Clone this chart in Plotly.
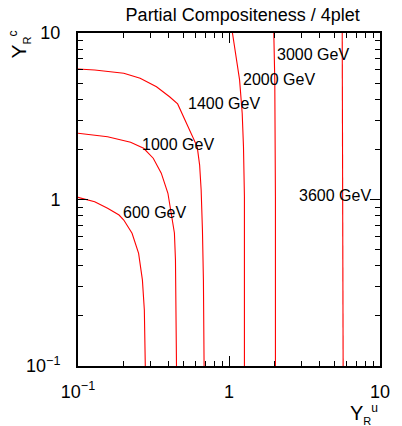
import math
import plotly.graph_objects as go

# ---- data ----
masses = ["600 GeV", "1000 GeV", "1400 GeV", "2000 GeV", "3000 GeV", "3600 GeV"]

c600_x = [0.1, 0.129, 0.157, 0.187, 0.201, 0.228, 0.252, 0.267, 0.275, 0.279]
c600_y = [1.03, 0.970, 0.885, 0.807, 0.753, 0.627, 0.475, 0.329, 0.217, 0.1]

c1000_x = [0.1, 0.157, 0.223, 0.272, 0.315, 0.356, 0.394, 0.420, 0.435, 0.442, 0.446, 0.449]
c1000_y = [2.50, 2.38, 2.21, 2.03, 1.77, 1.44, 1.09, 0.788, 0.629, 0.434, 0.249, 0.1]

c1400_x = [0.1, 0.129, 0.201, 0.258, 0.331, 0.404, 0.457, 0.523, 0.572, 0.616, 0.639, 0.654, 0.667, 0.677, 0.684]
c1400_y = [6.08, 6.00, 5.73, 5.35, 4.75, 4.14, 3.75, 2.88, 2.38, 2.07, 1.61, 1.14, 0.656, 0.328, 0.1]

c2000_x = [1.054, 1.118, 1.175, 1.223, 1.247, 1.265, 1.265]
c2000_y = [10.0, 7.21, 5.23, 3.30, 2.07, 1.04, 0.1]

c3000_x = [1.98, 2.01, 2.03, 2.03]
c3000_y = [10.0, 5.23, 1.04, 0.1]

c3600_x = [5.62, 5.66, 5.70]
c3600_y = [10.0, 1.0, 0.1]

curves = [(c600_x, c600_y), (c1000_x, c1000_y), (c1400_x, c1400_y),
          (c2000_x, c2000_y), (c3000_x, c3000_y), (c3600_x, c3600_y)]

# label anchor points (left edge, vertical middle) in data units
label_x = [0.193, 0.258, 0.518, 1.205, 2.03, 2.83]
label_y = [0.841, 2.153, 3.75, 5.27, 7.48, 1.064]

major_vals = [0.1, 1, 10]
major_text = ["10<sup>\u22121</sup>", "1", "10"]
minor_vals = [0.2, 0.3, 0.4, 0.5, 0.6, 0.7, 0.8, 0.9, 2, 3, 4, 5, 6, 7, 8, 9]

FONT = "Liberation Sans, Arial, sans-serif"

fig = go.Figure()
for cx, cy in curves:
    fig.add_trace(go.Scatter(x=cx, y=cy, mode="lines",
                             line=dict(color="#ff0000", width=1.1, shape="linear"),
                             showlegend=False, hoverinfo="skip"))

for txt, lx, ly in zip(masses, label_x, label_y):
    fig.add_annotation(x=math.log10(lx), y=math.log10(ly), xref="x", yref="y",
                       text=txt, showarrow=False, xanchor="left", yanchor="middle",
                       font=dict(family=FONT, size=16, color="black"))

axis_common = dict(
    type="log", range=[-1, 1], showgrid=False, zeroline=False,
    showline=True, linecolor="black", linewidth=2, mirror="ticks",
    ticks="inside", ticklen=10, tickwidth=1, tickcolor="black",
    tickmode="array", tickvals=major_vals, ticktext=major_text,
    tickfont=dict(family=FONT, size=18, color="black"),
    minor=dict(ticks="inside", ticklen=5, tickwidth=1, tickcolor="black",
               tickmode="array", tickvals=minor_vals, showgrid=False),
)

fig.update_layout(
    width=402, height=426,
    margin=dict(l=78, r=15, t=33, b=60),
    paper_bgcolor="white", plot_bgcolor="white",
    xaxis=dict(axis_common, ticklabelstandoff=8),
    yaxis=dict(axis_common, ticklabelstandoff=12),
    title=dict(text="Partial Compositeness / 4plet", x=0.5453, xref="paper",
               xanchor="center", y=1 - 15 / 426, yanchor="middle",
               font=dict(family=FONT, size=18, color="black")),
)

ytitle = ("Y<sub><span style='font-size:11px'>R</span></sub>"
          "<sup><span style='font-size:12px'>c</span></sup>")
xtitle = ("Y<sub><span style='font-size:11px'>R</span></sub>"
          "<sup><span style='font-size:12px'>u</span></sup>")

fig.add_annotation(text=ytitle, textangle=-90, showarrow=False,
                   xref="paper", yref="paper", x=-0.194, y=1.015,
                   xanchor="center", yanchor="top",
                   font=dict(family=FONT, size=21, color="black"))
fig.add_annotation(text=xtitle, showarrow=False,
                   xref="paper", yref="paper", x=1.0, y=-0.145,
                   xanchor="right", yanchor="middle",
                   font=dict(family=FONT, size=20, color="black"))

fig.write_html("out.html")
